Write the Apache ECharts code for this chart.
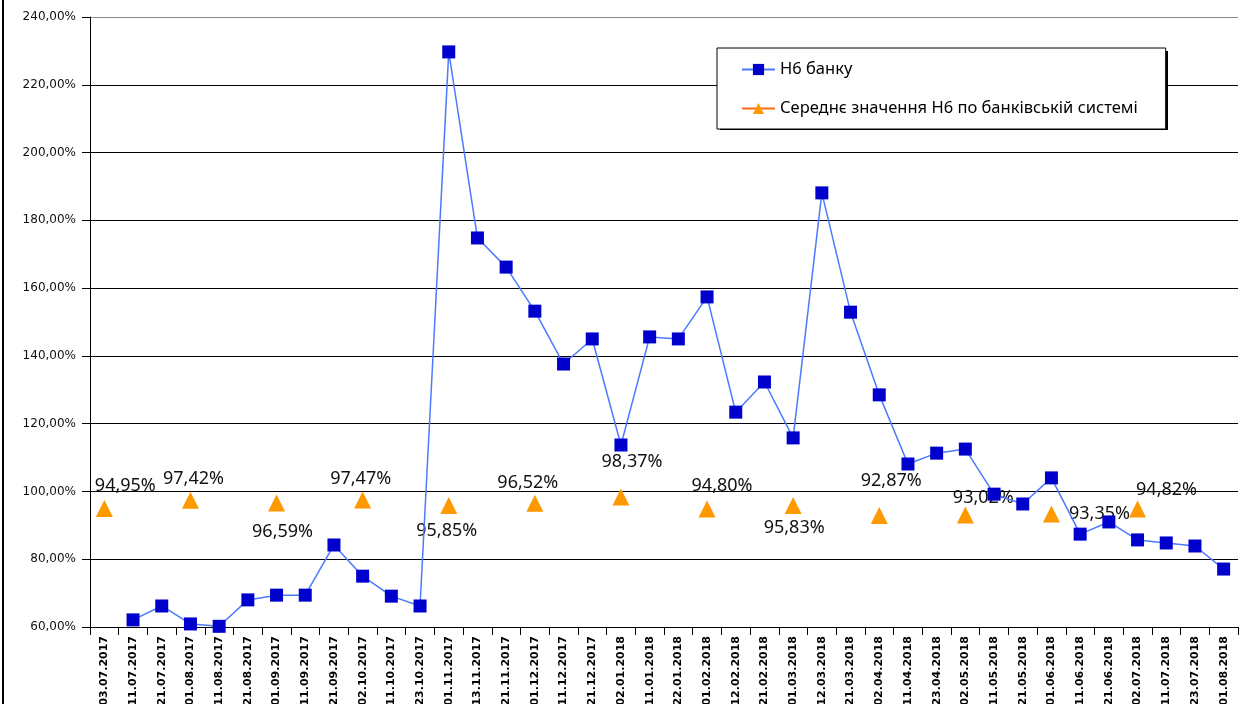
<!DOCTYPE html>
<html>
<head>
<meta charset="utf-8">
<script src="https://cdn.jsdelivr.net/npm/echarts@6/dist/echarts.min.js"></script>
<style>
  html, body { margin: 0; padding: 0; background: #fff; }
  #chart { width: 1250px; height: 704px; }
</style>
</head>
<body>
<div id="chart"></div>
<script>
const categories = [
  '03.07.2017','11.07.2017','21.07.2017','01.08.2017','11.08.2017','21.08.2017','01.09.2017','11.09.2017',
  '21.09.2017','02.10.2017','11.10.2017','23.10.2017','01.11.2017','13.11.2017','21.11.2017','01.12.2017',
  '11.12.2017','21.12.2017','02.01.2018','11.01.2018','22.01.2018','01.02.2018','12.02.2018','21.02.2018',
  '01.03.2018','12.03.2018','21.03.2018','02.04.2018','11.04.2018','23.04.2018','02.05.2018','11.05.2018',
  '21.05.2018','01.06.2018','11.06.2018','21.06.2018','02.07.2018','11.07.2018','23.07.2018','01.08.2018'
];
const bankN6 = [
  null, 62.1, 66.2, 60.9, 60.2, 68.0, 69.4, 69.4,
  84.2, 75.0, 69.1, 66.2, 229.7, 174.8, 166.2, 153.2,
  137.6, 145.0, 113.7, 145.6, 145.0, 157.4, 123.4, 132.3,
  115.8, 188.1, 152.9, 128.5, 108.1, 111.3, 112.5, 99.2,
  96.3, 104.0, 87.4, 91.0, 85.7, 84.8, 83.9, 77.1
];
const avgDates = [
  '03.07.2017','01.08.2017','01.09.2017','02.10.2017','01.11.2017','01.12.2017','02.01.2018',
  '01.02.2018','01.03.2018','02.04.2018','02.05.2018','01.06.2018','02.07.2018'
];
const avgValues = [94.95, 97.42, 96.59, 97.47, 95.85, 96.52, 98.37, 94.80, 95.83, 92.87, 93.02, 93.35, 94.82];
const yTicks = { min: 60, max: 240, step: 20 };
const seriesNames = ['Н6 банку', 'Середнє значення Н6 по банківській системі'];

// label placement (style, not data)
const avgLabelOffsets = [
  [21,-23],[3,-21],[6,29],[-2,-21],[-2,25],[-7,-20],[11,-35],
  [15,-23],[1,22],[12,-35],[18,-17],[48,0],[29,-19]
];

const fmtPct = v => v.toFixed(2).replace('.', ',') + '%';

const chart = echarts.init(document.getElementById('chart'));
chart.setOption({
  animation: false,
  backgroundColor: '#fff',
  grid: { left: 90, right: 12, top: 17, bottom: 77, containLabel: false, outerBoundsMode: 'none' },
  legend: {
    orient: 'vertical',
    left: 717, top: 48,
    padding: [13, 28, 12, 24],
    itemGap: 22,
    itemWidth: 33, itemHeight: 14,
    backgroundColor: '#fff',
    borderColor: '#000', borderWidth: 1,
    textStyle: { fontFamily: 'Noto Sans', fontSize: 16.5, color: '#000' },
    data: [
      { name: seriesNames[0] },
      { name: seriesNames[1], lineStyle: { color: '#FF6A13', width: 2, opacity: 1 } }
    ]
  },
  xAxis: {
    type: 'category',
    data: categories,
    boundaryGap: true,
    axisLine: { lineStyle: { color: '#000', width: 1 } },
    axisTick: { show: true, length: 8, interval: 0, lineStyle: { color: '#000' } },
    axisLabel: {
      interval: 0, rotate: 90, margin: 9,
      fontFamily: 'DejaVu Sans', fontWeight: 'bold', fontSize: 11, color: '#000'
    },
    splitLine: { show: false }
  },
  yAxis: {
    type: 'value',
    min: yTicks.min, max: yTicks.max, interval: yTicks.step,
    axisLine: { show: true, lineStyle: { color: '#000', width: 1 } },
    axisTick: { show: true, length: 8, lineStyle: { color: '#000' } },
    axisLabel: {
      formatter: fmtPct, margin: 14,
      fontFamily: 'DejaVu Sans', fontSize: 12, color: '#111'
    },
    splitLine: {
      show: true,
      lineStyle: { color: ['#000','#000','#000','#000','#000','#000','#000','#000','#000','#888'], width: 1 }
    }
  },
  series: [
    {
      name: seriesNames[0],
      type: 'line',
      data: bankN6,
      connectNulls: false,
      symbol: 'rect',
      symbolSize: 13,
      clip: false,
      lineStyle: { color: '#4D79FF', width: 1.5 },
      itemStyle: { color: '#0000CC' },
      z: 3
    },
    {
      name: seriesNames[1],
      type: 'line',
      data: avgDates.map((d, i) => ({
        value: [d, avgValues[i]],
        label: { offset: avgLabelOffsets[i] }
      })),
      symbol: 'triangle',
      symbolSize: 17,
      lineStyle: { opacity: 0 },
      itemStyle: { color: '#FF9900' },
      label: {
        show: true,
        position: 'inside',
        formatter: p => fmtPct(p.value[1]),
        fontFamily: 'Noto Sans', fontSize: 18, color: '#111'
      },
      z: 2
    }
  ],
  graphic: [
    { type: 'line', shape: { x1: 3, y1: 0, x2: 3, y2: 704 }, style: { stroke: '#000', lineWidth: 2 } },
    { type: 'rect', z: -1, shape: { x: 720, y: 51, width: 448, height: 79 }, style: { fill: '#000' } }
  ]
});
</script>
</body>
</html>
